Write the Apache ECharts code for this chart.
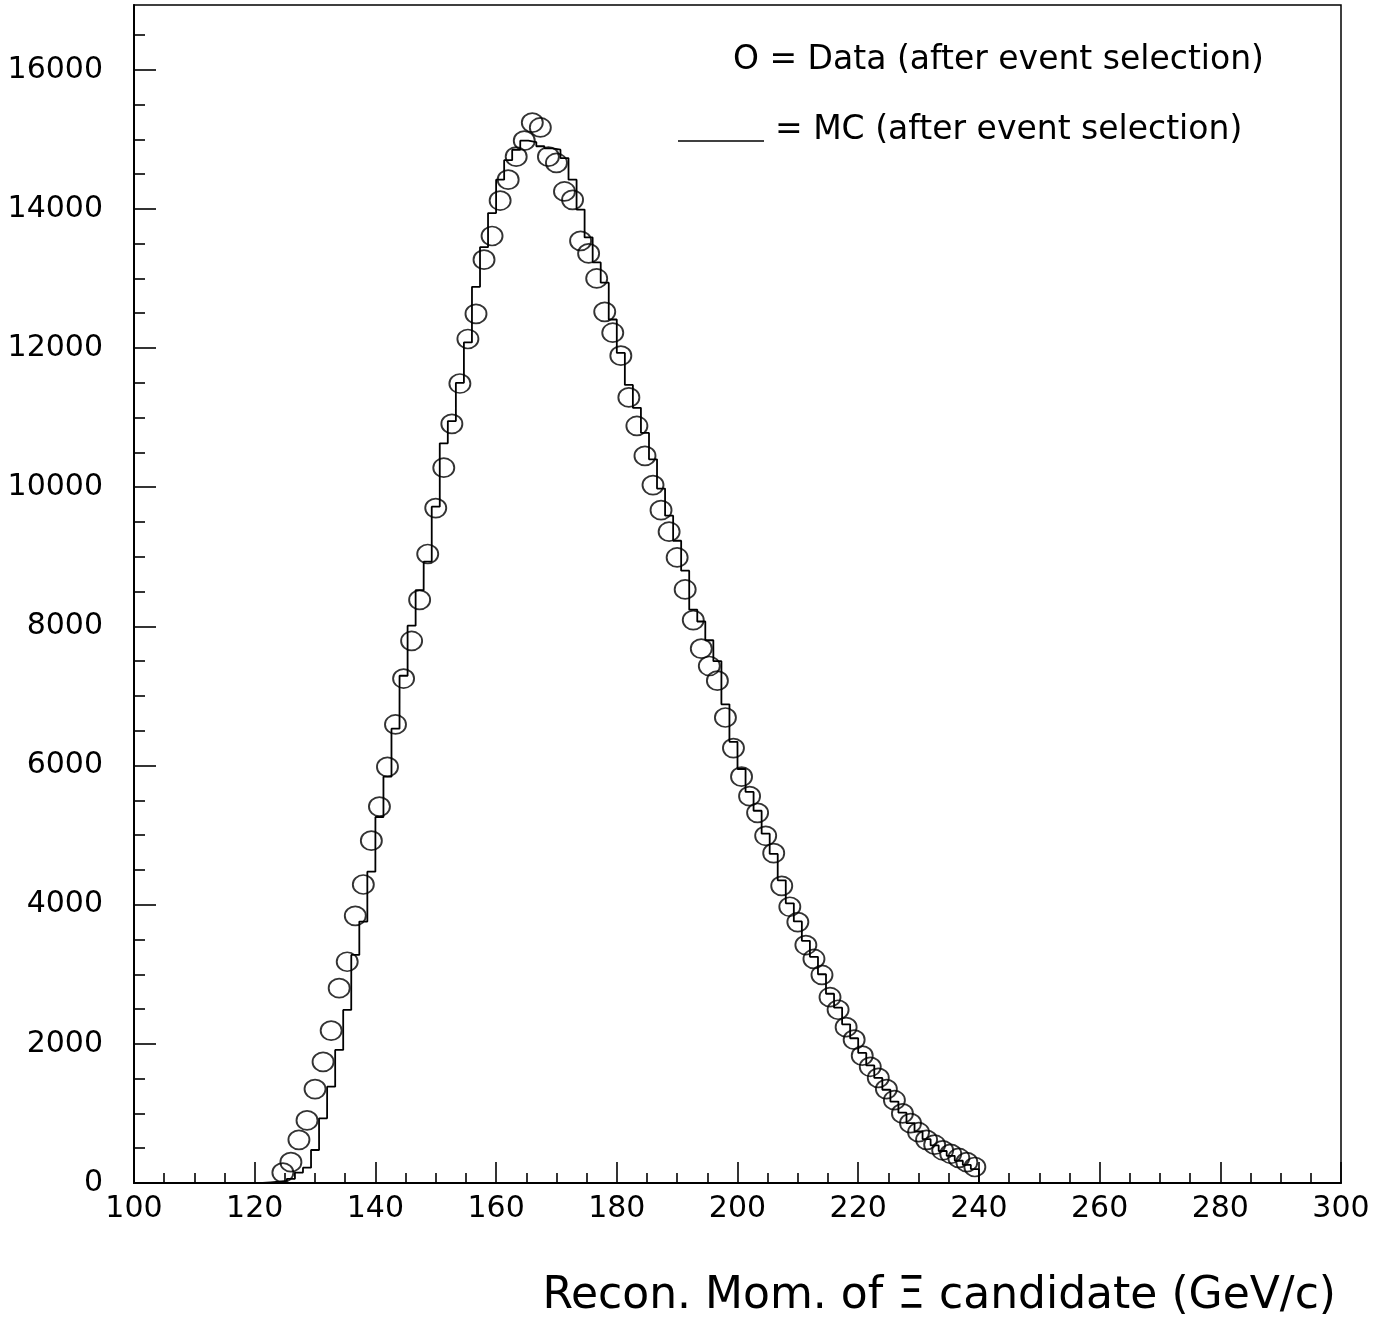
<!DOCTYPE html>
<html>
<head>
<meta charset="utf-8">
<script src="https://cdn.jsdelivr.net/npm/echarts@6/dist/echarts.min.js"></script>
<style>
html,body{margin:0;padding:0;background:#ffffff;}
#chart{width:1379px;height:1320px;}
</style>
</head>
<body>
<div id="chart"></div>
<script>
// ---- data ----
// bin centres of the data points (GeV/c), bin width 4/3 GeV/c
const binCenters = [
  124.67,126.00,127.33,128.67,130.00,131.33,132.67,134.00,135.33,136.67,
  138.00,139.33,140.67,142.00,143.33,144.67,146.00,147.33,148.67,150.00,
  151.33,152.67,154.00,155.33,156.67,158.00,159.33,160.67,162.00,163.33,
  164.67,166.00,167.33,168.67,170.00,171.33,172.67,174.00,175.33,176.67,
  178.00,179.33,180.67,182.00,183.33,184.67,186.00,187.33,188.67,190.00,
  191.33,192.67,194.00,195.33,196.67,198.00,199.33,200.67,202.00,203.33,
  204.67,206.00,207.33,208.67,210.00,211.33,212.67,214.00,215.33,216.67,
  218.00,219.33,220.67,222.00,223.33,224.67,226.00,227.33,228.67,230.00,
  231.33,232.67,234.00,235.33,236.67,238.00,239.33
];
// Data (after event selection) — circles
const dataCounts = [
  150,300,620,900,1350,1740,2190,2800,3180,3840,
  4290,4920,5410,5980,6590,7250,7790,8380,9040,9700,
  10280,10910,11490,12130,12490,13270,13610,14120,14420,14750,
  14980,15240,15170,14750,14660,14250,14130,13540,13360,13000,
  12520,12220,11890,11290,10880,10450,10030,9670,9360,8990,
  8530,8090,7680,7430,7220,6690,6250,5840,5560,5320,
  4990,4740,4270,3970,3750,3420,3220,2990,2670,2490,
  2240,2060,1830,1670,1510,1350,1190,1000,860,730,
  620,550,470,420,360,300,230
];
// MC (after event selection) — histogram bin centres and contents
const mcCenters = [
  122.00,123.33,
  124.67,126.00,127.33,128.67,130.00,131.33,132.67,134.00,135.33,136.67,
  138.00,139.33,140.67,142.00,143.33,144.67,146.00,147.33,148.67,150.00,
  151.33,152.67,154.00,155.33,156.67,158.00,159.33,160.67,162.00,163.33,
  164.67,166.00,167.33,168.67,170.00,171.33,172.67,174.00,175.33,176.67,
  178.00,179.33,180.67,182.00,183.33,184.67,186.00,187.33,188.67,190.00,
  191.33,192.67,194.00,195.33,196.67,198.00,199.33,200.67,202.00,203.33,
  204.67,206.00,207.33,208.67,210.00,211.33,212.67,214.00,215.33,216.67,
  218.00,219.33,220.67,222.00,223.33,224.67,226.00,227.33,228.67,230.00,
  231.33,232.67,234.00,235.33,236.67,238.00,239.33
];
const mcCounts = [
  10,20,
  30,60,150,220,474,930,1385,1912,2487,3278,
  3757,4475,5260,5840,6530,7290,8010,8520,8930,9720,
  10630,10950,11500,12080,12880,13450,13940,14420,14700,14850,
  14980,14960,14900,14870,14850,14730,14420,13990,13590,13230,
  12940,12410,11930,11470,11140,10780,10400,9980,9590,9230,
  8800,8240,8070,7800,7500,6880,6340,5950,5620,5350,
  5020,4730,4350,4020,3760,3480,3250,3000,2720,2520,
  2280,2080,1870,1690,1510,1340,1170,1010,860,740,
  630,540,460,390,320,260,200
];
const binWidth = 4 / 3;
const yMajorTicks = [0,2000,4000,6000,8000,10000,12000,14000,16000];
const yMinorTicks = [500,1000,1500,2500,3000,3500,4500,5000,5500,6500,7000,7500,
  8500,9000,9500,10500,11000,11500,12500,13000,13500,14500,15000,15500,16500];
const xTitle = 'Recon. Mom. of \u039E candidate (GeV/c)';
const legendData = 'O = Data (after event selection)';
const legendMC = '= MC (after event selection)';

// ---- build series data ----
const points = binCenters.map((x, i) => [x, dataCounts[i]]);
const hw = binWidth / 2;
const steps = [[mcCenters[0] - hw, 0]];
mcCenters.forEach((c, i) => {
  steps.push([c - hw, mcCounts[i]]);
  steps.push([c + hw, mcCounts[i]]);
});
steps.push([mcCenters[mcCenters.length - 1] + hw, 0]);

const FONT = 'DejaVu Sans';
const plain = v => String(v);
const chart = echarts.init(document.getElementById('chart'), null, {renderer: 'canvas'});
chart.setOption({
  animation: false,
  backgroundColor: '#ffffff',
  textStyle: {fontFamily: FONT, color: '#000'},
  grid: {left: 134, right: 38, top: 5, bottom: 137, show: true,
         borderColor: '#000', borderWidth: 1.5, backgroundColor: 'transparent'},
  xAxis: {
    type: 'value', min: 100, max: 300, interval: 20,
    axisLine: {show: true, lineStyle: {color: '#000', width: 2}},
    axisTick: {show: true, inside: true, length: 21, lineStyle: {color: '#000', width: 1.6}},
    minorTick: {show: true, splitNumber: 4, length: 10, lineStyle: {color: '#000', width: 1.6}},
    splitLine: {show: false}, minorSplitLine: {show: false},
    axisLabel: {fontSize: 30, color: '#000', margin: 11, fontFamily: FONT, formatter: plain},
    name: xTitle, nameLocation: 'end', nameGap: -5,
    nameTextStyle: {fontSize: 44, color: '#000', fontFamily: FONT, align: 'right',
                    verticalAlign: 'top', padding: [92, 0, 0, 0]}
  },
  yAxis: [{
    type: 'value', min: 0, max: 16930, interval: 2000,
    axisLine: {show: true, lineStyle: {color: '#000', width: 2}},
    axisTick: {show: true, inside: true, length: 22, customValues: yMajorTicks,
               lineStyle: {color: '#000', width: 1.6}},
    axisLabel: {fontSize: 30, color: '#000', margin: 31, fontFamily: FONT,
                customValues: yMajorTicks, formatter: plain},
    splitLine: {show: false}
  }, {
    type: 'value', min: 0, max: 16930, position: 'left',
    axisLine: {show: false},
    axisTick: {show: true, inside: true, length: 11, customValues: yMinorTicks,
               lineStyle: {color: '#000', width: 1.6}},
    axisLabel: {show: false},
    splitLine: {show: false}
  }],
  series: [{
    name: 'MC', type: 'line', data: steps, showSymbol: false, symbol: 'none',
    lineStyle: {color: '#000', width: 1.8}, z: 2
  }, {
    name: 'Data', type: 'scatter', data: points, symbol: 'circle', symbolSize: [21, 19],
    itemStyle: {color: 'rgba(0,0,0,0)', borderColor: '#000', borderWidth: 1.8}, z: 3
  }],
  graphic: [
    {type: 'text', left: 733, top: 44,
     style: {text: legendData, fontSize: 33, fontFamily: FONT, fill: '#000'}},
    {type: 'line', shape: {x1: 678, y1: 141, x2: 764, y2: 141},
     style: {stroke: '#000', lineWidth: 1.6}},
    {type: 'text', left: 775, top: 114,
     style: {text: legendMC, fontSize: 33, fontFamily: FONT, fill: '#000'}}
  ]
});
</script>
</body>
</html>
